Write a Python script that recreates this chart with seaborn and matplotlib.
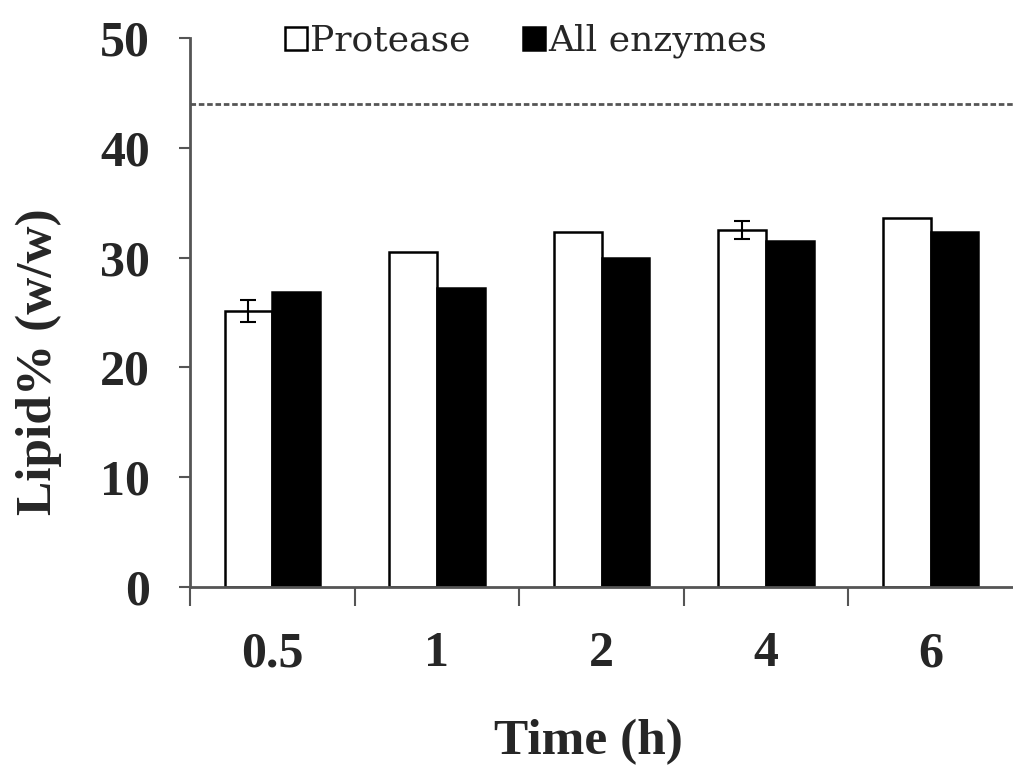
import numpy as np
import pandas as pd
import matplotlib.pyplot as plt
import seaborn as sns

# values
times = ['0.5', '1', '2', '4', '6']
protease = [25.1, 30.5, 32.3, 32.5, 33.6]
all_enzymes = [26.9, 27.2, 30.0, 31.5, 32.3]
protease_err = [1.0, 0.0, 0.0, 0.8, 0.0]
all_enzymes_err = [0.0, 0.0, 0.0, 0.0, 0.0]
reference_level = 44.0

series_names = ['Protease', 'All enzymes']

df = pd.DataFrame({
    'Time': times * 2,
    'Lipid': protease + all_enzymes,
    'err': protease_err + all_enzymes_err,
    'Enzyme': [series_names[0]] * len(times) + [series_names[1]] * len(times),
})

sns.set_style('ticks')
plt.rcParams['font.family'] = ['Liberation Serif', 'DejaVu Serif']

fig = plt.figure(figsize=(10.13, 7.69), dpi=100)
ax = fig.add_axes([0.1876, 0.2367, 0.8124, 0.714])

sns.barplot(data=df, x='Time', y='Lipid', hue='Enzyme', order=times,
            hue_order=series_names, palette=['white', 'black'],
            width=0.58, edgecolor='black', linewidth=1.8, ax=ax,
            errorbar=None, legend=True)

# error bars on top of the bars
bars = [p for p in ax.patches if p.get_height() > 0]
for bar, e in zip(bars, df['err']):
    if e > 0:
        ax.errorbar(bar.get_x() + bar.get_width() / 2, bar.get_height(), yerr=e,
                    fmt='none', ecolor='black', elinewidth=1.5, capsize=6, capthick=1.5)

ax.axhline(reference_level, color='#555555', linestyle=(0, (2, 1)), linewidth=2)

ax.set_xlim(-0.5, 4.5)
ax.set_ylim(0, 50)
ax.set_yticks(range(0, 51, 10))
ax.set_xticks(np.arange(-0.5, 4.0, 1), minor=True)
ax.tick_params(axis='x', which='major', length=0, pad=32, labelsize=36)
ax.tick_params(axis='x', which='minor', length=14, width=1.5, color='#555555', direction='out')
ax.tick_params(axis='y', length=8, width=1.5, color='#555555', pad=21, labelsize=36)
for lab in ax.get_xticklabels() + ax.get_yticklabels():
    lab.set_fontweight('bold')

sns.despine(ax=ax)
for side in ['left', 'bottom']:
    ax.spines[side].set_color('#555555')
    ax.spines[side].set_linewidth(2)

ax.set_xlabel('Time (h)', fontsize=37, fontweight='bold')
ax.set_ylabel('Lipid% (w/w)', fontsize=37, fontweight='bold')
ax.xaxis.set_label_coords(0.484, -0.24)
ax.yaxis.set_label_coords(-0.155, 0.41)

handles, labels = ax.get_legend_handles_labels()
ax.legend(handles, labels, ncol=2, frameon=False, loc='center left',
          bbox_to_anchor=(0.076, 0.994), prop={'family': 'DejaVu Serif', 'size': 26},
          handlelength=0.6, handleheight=0.6, handletextpad=0.1, columnspacing=1.45)

fig.savefig('out.png', dpi=100)
